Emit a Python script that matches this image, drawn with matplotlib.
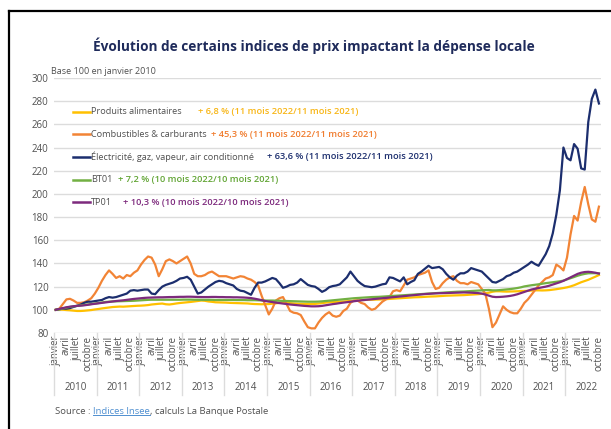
import matplotlib
matplotlib.use("Agg")
import matplotlib.pyplot as plt
from matplotlib.lines import Line2D
import matplotlib.transforms as mtransforms

# ---------------- data (monthly, Jan 2010 -> Oct 2022, base 100 = Jan 2010) ----------------
years = list(range(2010, 2023))
month_names = ["janvier", "avril", "juillet", "octobre"]

alimentaires = [
    100.0, 100.2, 100.1, 99.8, 99.6, 99.3, 99.0, 99.0, 99.2, 99.5, 99.8, 100.3,
    100.7, 101.2, 101.6, 102.0, 102.4, 102.6, 102.8, 102.7, 102.9, 103.1, 103.3, 103.5,
    103.6, 103.8, 104.1, 104.6, 104.9, 105.2, 105.4, 104.8, 104.6, 105.0, 105.5, 105.9,
    106.2, 106.5, 106.8, 107.2, 107.6, 108.0, 107.8, 107.2, 106.9, 106.5, 106.4, 106.3,
    106.2, 106.0, 105.9, 105.8, 105.7, 105.6, 105.5, 105.2, 105.0, 104.9, 104.8, 104.9,
    105.0, 105.3, 105.6, 106.0, 106.2, 106.1, 105.8, 105.5, 105.3, 105.2, 105.1, 105.0,
    105.0, 105.1, 105.4, 105.8, 106.2, 106.5, 106.8, 106.9, 107.0, 107.2, 107.4, 107.6,
    107.8, 108.0, 108.3, 108.5, 108.6, 108.7, 108.8, 108.9, 109.0, 109.2, 109.4, 109.6,
    109.8, 110.0, 110.2, 110.4, 110.6, 110.8, 110.9, 111.0, 111.2, 111.4, 111.5, 111.6,
    111.8, 112.0, 112.2, 112.3, 112.4, 112.5, 112.6, 112.7, 112.9, 113.1, 113.3, 113.5,
    113.8, 114.2, 114.8, 115.6, 116.0, 116.0, 115.8, 115.7, 115.8, 115.9, 116.0, 116.2,
    116.3, 116.4, 116.6, 116.8, 116.8, 116.7, 116.8, 117.0, 117.4, 117.8, 118.3, 118.8,
    119.4, 120.2, 121.2, 122.5, 123.8, 124.8, 125.9, 127.2, 128.6, 130.0,
]

combustibles = [
    100, 101, 105, 109, 109.5, 108, 106, 106, 106.5, 108, 110, 114,
    119, 125, 130, 134, 131, 127.5, 129, 127, 130, 129, 132, 134,
    139, 143, 146, 145, 139, 129, 135, 142, 143.5, 142, 140, 142,
    144, 146, 140, 131, 129, 129, 130, 132, 133, 131, 129, 129,
    129, 128, 127, 128, 129, 128.5, 127, 126, 124, 121, 112, 104,
    96, 101, 108, 110, 111, 105, 99, 97.5, 97, 95.5, 90, 85,
    84, 84, 89, 93, 96, 98, 95, 94, 95, 99, 101, 106,
    108, 108, 106, 105, 102, 100, 101, 104, 107, 109, 111, 116,
    117, 116, 121, 126, 127, 128, 130, 131, 132, 134, 124, 118,
    119, 123, 126, 128, 129, 125, 123, 123, 122, 124, 123, 122,
    118, 114, 101, 85, 89, 96, 103, 100, 98, 97, 97, 101,
    106, 109, 113, 117, 121, 124, 127, 128, 130, 139, 137, 134,
    145, 165, 181, 177, 193, 206, 191, 178, 176, 189,
]

electricite = [
    100, 100.5, 101, 101, 101.5, 102.5, 103.5, 104.5, 106, 107, 107, 107.5,
    108, 108.5, 110, 111, 110.5, 111, 112, 113, 114, 116.5, 117, 116.5,
    117, 117.5, 117.5, 114, 113.5, 117, 120, 121.5, 122.5, 123.5, 125, 127,
    127.5, 128.5, 126, 120, 114, 115, 117.5, 120, 122, 124, 125, 124.5,
    123, 122, 121, 118, 116.5, 116, 114.5, 113, 119, 123.5, 123.5, 124.5,
    126, 127.5, 126.5, 123, 119, 120, 121.5, 122, 123.5, 126.5, 124, 121.5,
    120.5, 120, 118, 115.5, 117, 119.5, 120.5, 121, 122, 125, 128, 133,
    129, 125, 122.5, 120.5, 120, 119.5, 120, 121, 122, 122.5, 128, 127.5,
    126, 124.5, 128, 122, 124, 125.5, 131, 133, 135.5, 138, 136, 136.5,
    137, 135, 131, 128, 126, 129.5, 131.5, 131.5, 133, 136, 135, 134,
    133, 130, 127, 124, 123.5, 125, 126.5, 129, 130, 132, 133, 135,
    137, 139, 141.5, 139.5, 138, 143, 148, 155, 166, 182, 203, 240,
    231, 229, 243, 239, 222, 221, 262, 282, 290, 278,
]

bt01 = [
    100.0, 100.5, 101.2, 101.9, 102.5, 103.0, 103.4, 103.8, 104.2, 104.6, 105.0, 105.4,
    105.8, 106.3, 106.8, 107.0, 107.2, 107.3, 107.4, 107.5, 107.6, 107.7, 107.8, 108.0,
    108.2, 108.4, 108.6, 108.7, 108.7, 108.7, 108.7, 108.7, 108.7, 108.7, 108.7, 108.7,
    108.8, 108.8, 108.8, 108.7, 108.7, 108.6, 108.6, 108.6, 108.6, 108.5, 108.5, 108.5,
    108.5, 108.5, 108.5, 108.4, 108.4, 108.4, 108.3, 108.3, 108.3, 108.2, 108.1, 108.0,
    108.0, 108.0, 107.9, 107.8, 107.7, 107.6, 107.5, 107.4, 107.3, 107.2, 107.1, 107.0,
    107.0, 107.0, 107.1, 107.3, 107.6, 107.9, 108.2, 108.5, 108.8, 109.1, 109.4, 109.7,
    110.0, 110.2, 110.4, 110.6, 110.8, 111.0, 111.1, 111.2, 111.4, 111.6, 111.8, 112.0,
    112.2, 112.4, 112.6, 112.8, 113.0, 113.2, 113.4, 113.6, 113.8, 114.0, 114.2, 114.4,
    114.6, 114.8, 115.0, 115.2, 115.4, 115.6, 115.7, 115.8, 116.0, 116.2, 116.4, 116.6,
    116.8, 117.0, 117.1, 116.8, 116.8, 117.0, 117.3, 117.6, 117.9, 118.3, 118.8, 119.4,
    120.2, 120.7, 121.2, 121.6, 122.0, 122.5, 123.0, 123.4, 123.8, 124.2, 124.6, 125.2,
    126.2, 127.3, 128.3, 129.4, 130.3, 131.0, 131.5, 131.6, 131.6, 131.4,
]

tp01 = [
    100.0, 100.8, 101.5, 102.2, 102.7, 103.1, 103.4, 103.6, 103.9, 104.3, 104.8, 105.2,
    105.6, 106.0, 106.4, 106.8, 107.2, 107.6, 107.9, 108.2, 108.6, 109.0, 109.4, 109.7,
    110.0, 110.3, 110.5, 110.6, 110.7, 110.8, 110.8, 110.9, 111.0, 111.0, 111.1, 111.2,
    111.2, 111.3, 111.3, 111.2, 111.1, 111.0, 111.0, 111.0, 111.1, 111.1, 111.0, 111.0,
    110.9, 110.9, 110.8, 110.8, 110.7, 110.6, 110.4, 110.1, 109.6, 109.0, 108.3, 107.6,
    107.1, 106.7, 106.2, 105.8, 105.4, 105.0, 104.6, 104.3, 104.0, 103.7, 103.4, 103.2,
    103.0, 103.0, 103.1, 103.4, 103.9, 104.4, 104.9, 105.3, 105.8, 106.2, 106.6, 107.0,
    107.4, 107.8, 108.2, 108.5, 108.8, 109.1, 109.4, 109.7, 110.0, 110.3, 110.6, 110.9,
    111.2, 111.5, 111.8, 112.1, 112.4, 112.7, 113.0, 113.3, 113.6, 113.8, 114.0, 114.2,
    114.3, 114.4, 114.5, 114.6, 114.7, 114.8, 114.9, 115.0, 114.9, 114.8, 114.6, 114.4,
    114.0, 113.2, 112.2, 111.3, 111.0, 111.1, 111.3, 111.6, 112.0, 112.6, 113.4, 114.4,
    115.5, 116.5, 117.5, 118.2, 118.8, 119.4, 120.0, 120.8, 121.8, 122.8, 123.8, 125.0,
    126.5, 128.0, 129.5, 131.0, 132.0, 132.6, 132.8, 132.5, 132.0, 131.3,
]

series_names = ["Produits alimentaires", "Combustibles & carburants",
                "Électricité, gaz, vapeur, air conditionné", "BT01", "TP01"]
series_notes = ["+ 6,8 % (11 mois 2022/11 mois 2021)",
                "+ 45,3 % (11 mois 2022/11 mois 2021)",
                "+ 63,6 % (11 mois 2022/11 mois 2021)",
                "+ 7,2 % (10 mois 2022/10 mois 2021)",
                "+ 10,3 % (10 mois 2022/10 mois 2021)"]
series_values = [alimentaires, combustibles, electricite, bt01, tp01]

y_ticks = [80, 100, 120, 140, 160, 180, 200, 220, 240, 260, 280, 300]

title = "Évolution de certains indices de prix impactant la dépense locale"
subtitle = "Base 100 en janvier 2010"

# ---------------- style ----------------
W, H, DPI = 611, 429, 100
line_colors = ["#FFC000", "#F28435", "#1C2E6E", "#72B043", "#7D2A7D"]
note_colors = ["#F8B617", "#F07C2E", "#1C2E6E", "#62A535", "#7D2A7D"]
TXT = "#505050"
GRID = "#DCDCDC"
FONT = "Open Sans"
plt.rcParams["font.family"] = [FONT, "DejaVu Sans"]


def fx(px):
    return px / W


def fy(py):
    return 1 - py / H


fig = plt.figure(figsize=(W / DPI, H / DPI), dpi=DPI)
fig.patch.set_facecolor("white")

ax = fig.add_axes([fx(54), fy(333), (600.7 - 54) / W, (333 - 78) / H])
n = len(combustibles)
x = list(range(n))
for vals, col in zip(series_values, line_colors):
    ax.plot(x, vals, color=col, lw=1.6, solid_joinstyle="round", zorder=3)

ax.set_xlim(-0.5, n - 0.5)
ax.set_ylim(80, 300)
ax.set_yticks(y_ticks)
ax.set_yticklabels([str(v) for v in y_ticks])
ax.grid(axis="y", color=GRID, lw=1.0, zorder=0)
for s in ax.spines.values():
    s.set_visible(False)
ax.tick_params(axis="y", length=0, pad=4, labelsize=7, labelcolor=TXT)

tick_pos, tick_lab = [], []
for k, yr in enumerate(years):
    for m, name in zip((0, 3, 6, 9), month_names):
        p = 12 * k + m
        if p < n:
            tick_pos.append(p)
            tick_lab.append(name)
ax.set_xticks(tick_pos)
ax.set_xticklabels(tick_lab, rotation=90, va="top", ha="center")
ax.tick_params(axis="x", length=0, pad=2, labelsize=6.9, labelcolor=TXT)

trans = mtransforms.blended_transform_factory(ax.transData, ax.transAxes)
yb = -(395 - 333) / 255
for k, yr in enumerate(years):
    xs = 12 * k - 0.5
    ax.plot([xs, xs], [0, yb], transform=trans, color=GRID, lw=1.0, clip_on=False)
    ax.text(12 * k + 5.5, -(388 - 333) / 255, str(yr), transform=trans,
            ha="center", va="center", fontsize=7, color=TXT)

# title & subtitle
fig.text(fx(314), fy(46), title, ha="center", va="center", fontsize=9.8,
         fontweight="bold", color="#1F2B5B")
fig.text(fx(51), fy(71), subtitle, ha="left", va="center", fontsize=6.5, color=TXT)

# legend
rows = [112, 134, 157, 180, 202]
note_x = [198, 211, 267, 118, 123]
for name, note, col, ncol, ry, nx in zip(series_names, series_notes, line_colors,
                                          note_colors, rows, note_x):
    fig.add_artist(Line2D([fx(73), fx(90)], [fy(ry), fy(ry)], color=col, lw=1.8,
                          transform=fig.transFigure))
    fig.text(fx(91), fy(ry), name, ha="left", va="center", fontsize=6.6, color=TXT)
    fig.text(fx(nx), fy(ry), note, ha="left", va="center", fontsize=6.7,
             color=ncol, fontweight="semibold")

# source
fig.canvas.draw()
r = fig.canvas.get_renderer()
t1 = fig.text(fx(55), fy(411), "Source : ", ha="left", va="center", fontsize=6.8, color=TXT)
bb1 = t1.get_window_extent(r)
t2 = fig.text(bb1.x1 / W, fy(411), "Indices Insee", ha="left", va="center", fontsize=6.8,
              color="#4F8FD0")
bb2 = t2.get_window_extent(r)
fig.add_artist(Line2D([bb2.x0 / W, bb2.x1 / W], [(bb2.y0 + 0.5) / H] * 2,
                      color="#4F8FD0", lw=0.7, transform=fig.transFigure))
fig.text(bb2.x1 / W, fy(411), ", calculs La Banque Postale", ha="left", va="center",
         fontsize=6.8, color=TXT)

# frame from the screenshot (top and left edges)
fig.add_artist(Line2D([fx(9), fx(611)], [fy(11), fy(11)], color="black", lw=1.6,
                      transform=fig.transFigure))
fig.add_artist(Line2D([fx(9), fx(9)], [fy(11), fy(429)], color="black", lw=1.6,
                      transform=fig.transFigure))

fig.savefig("out.png", dpi=DPI)
